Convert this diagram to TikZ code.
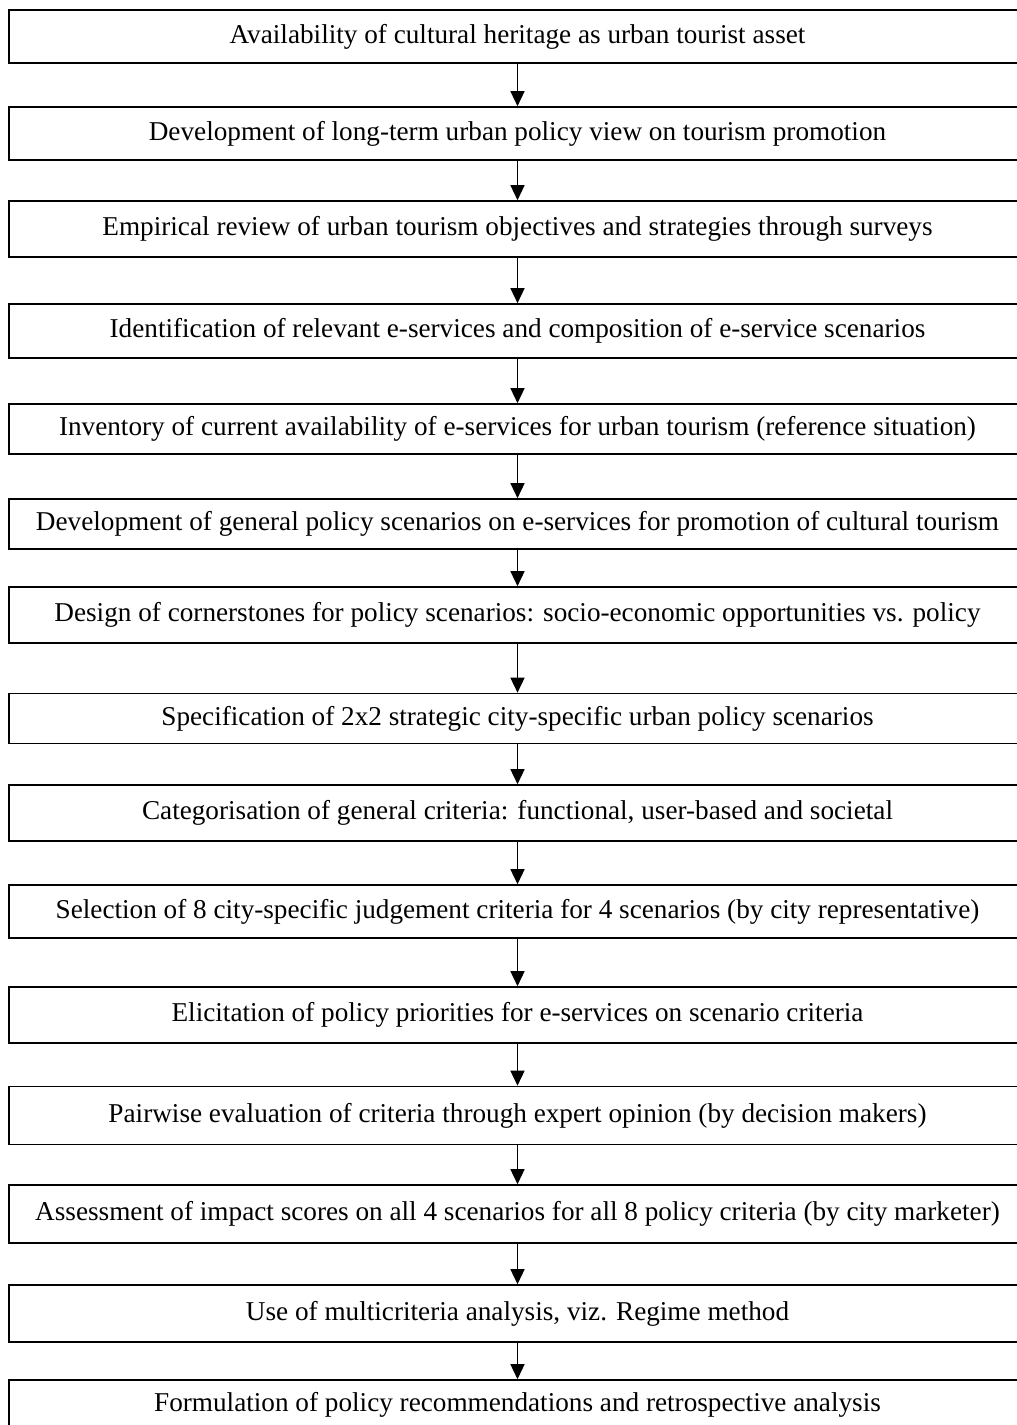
\documentclass[tikz,border=0pt]{standalone}
\usepackage{fontspec}
\setmainfont{Liberation Serif}
\usetikzlibrary{arrows.meta}
\tikzset{
  stepbox/.style={draw, line width=0.8pt, minimum width=508.5pt, inner sep=0pt,
    font=\fontsize{13.6}{16}\selectfont, anchor=center},
  arr/.style={line width=0.7pt, -{Triangle[width=7pt,length=7.5pt]}}
}
\begin{document}
\begin{tikzpicture}[x=0.5pt,y=-0.5pt]
\useasboundingbox (0,0) rectangle (1017,1425);
\clip (0,0) rectangle (1017,1425);
\node[stepbox, minimum height=26.5pt] (b1) at (517.5,36.5) {Availability of cultural heritage as urban tourist asset};
\node[stepbox, minimum height=26.5pt] (b2) at (517.5,133.5) {Development of long-term urban policy view on tourism promotion};
\node[stepbox, minimum height=28pt] (b3) at (517.5,229) {Empirical review of urban tourism objectives and strategies through surveys};
\node[stepbox, minimum height=27pt] (b4) at (517.5,331) {Identification of relevant e-services and composition of e-service scenarios};
\node[stepbox, minimum height=25pt] (b5) at (517.5,429) {Inventory of current availability of e-services for urban tourism (reference situation)};
\node[stepbox, minimum height=25pt] (b6) at (517.5,524) {Development of general policy scenarios on e-services for promotion of cultural tourism};
\node[stepbox, minimum height=28pt] (b7) at (517.5,615) {Design of cornerstones for policy scenarios: socio-economic opportunities vs. policy};
\node[stepbox, minimum height=25pt] (b8) at (517.5,718.5) {Specification of 2x2 strategic city-specific urban policy scenarios};
\node[stepbox, minimum height=28pt] (b9) at (517.5,813) {Categorisation of general criteria: functional, user-based and societal};
\node[stepbox, minimum height=26.5pt] (b10) at (517.5,911.5) {Selection of 8 city-specific judgement criteria for 4 scenarios (by city representative)};
\node[stepbox, minimum height=28pt] (b11) at (517.5,1015) {Elicitation of policy priorities for e-services on scenario criteria};
\node[stepbox, minimum height=29pt] (b12) at (517.5,1115.5) {Pairwise evaluation of criteria through expert opinion (by decision makers)};
\node[stepbox, minimum height=29pt] (b13) at (517.5,1214) {Assessment of impact scores on all 4 scenarios for all 8 policy criteria (by city marketer)};
\node[stepbox, minimum height=28.5pt] (b14) at (517.5,1313.5) {Use of multicriteria analysis, viz. Regime method};
\node[stepbox, minimum height=25pt] (b15) at (517.5,1405) {Formulation of policy recommendations and retrospective analysis};
\foreach \a/\b in {b1/b2,b2/b3,b3/b4,b4/b5,b5/b6,b6/b7,b7/b8,b8/b9,b9/b10,b10/b11,b11/b12,b12/b13,b13/b14,b14/b15}
  \draw[arr] (\a.south) -- (\b.north);
\end{tikzpicture}
\end{document}
